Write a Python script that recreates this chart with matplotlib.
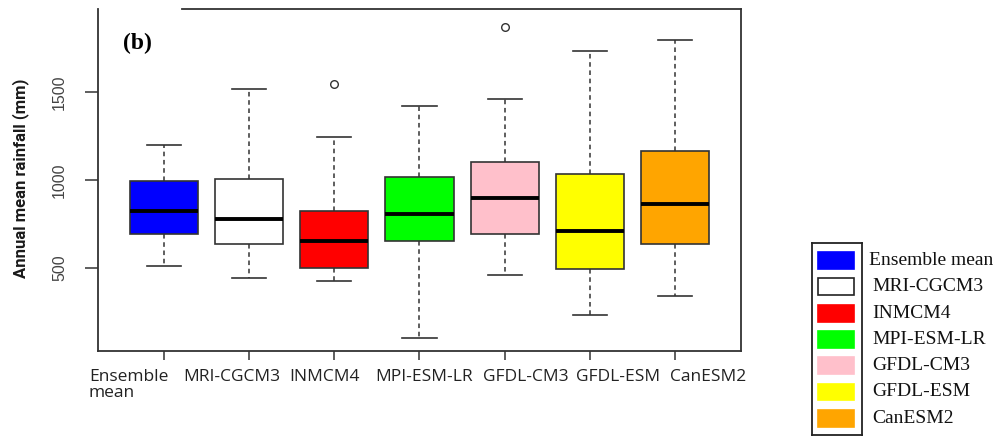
import matplotlib
matplotlib.use('Agg')
import matplotlib.pyplot as plt
from matplotlib.patches import Rectangle
import matplotlib.transforms as mtransforms

# models / colours
models = ['Ensemble mean', 'MRI-CGCM3', 'INMCM4', 'MPI-ESM-LR',
          'GFDL-CM3', 'GFDL-ESM', 'CanESM2']
tick_names = ['Ensemble\nmean', 'MRI-CGCM3', 'INMCM4', 'MPI-ESM-LR',
              'GFDL-CM3', 'GFDL-ESM', 'CanESM2']
colors = ['#0000FF', '#FFFFFF', '#FF0000', '#00FF00',
          '#FFC0CB', '#FFFF00', '#FFA500']

# box statistics (mm)
whislo = [511, 443, 422, 101, 456, 228, 336]
q1 = [694, 633, 500, 652, 690, 494, 633]
med = [821, 778, 652, 804, 897, 711, 861]
q3 = [992, 1006, 823, 1019, 1100, 1032, 1163]
whishi = [1201, 1520, 1243, 1420, 1463, 1735, 1800]
outliers = [[], [], [1545], [], [1874], [], []]

# where the x labels sit (they are not centred on the ticks in the original)
label_x = [0.58, 1.79, 2.88, 4.05, 5.25, 6.33, 7.39]


def main():
    fig = plt.figure(figsize=(9.95, 4.37), dpi=100)
    ax = fig.add_axes([0.0985, 0.1968, 0.6462, 0.7826])

    stats = []
    for i in range(len(models)):
        stats.append(dict(whislo=whislo[i], q1=q1[i], med=med[i], q3=q3[i],
                          whishi=whishi[i], fliers=outliers[i]))

    pos = list(range(1, len(models) + 1))
    bp = ax.bxp(stats, positions=pos, widths=0.8, capwidths=0.4,
                patch_artist=True, showfliers=True,
                boxprops=dict(edgecolor='#333333', linewidth=1.2),
                medianprops=dict(color='black', linewidth=2.8, solid_capstyle='butt'),
                whiskerprops=dict(color='#333333', linewidth=1.1,
                                  linestyle=(0, (3.0, 2.4))),
                capprops=dict(color='#333333', linewidth=1.2),
                flierprops=dict(marker='o', markersize=5.5, markerfacecolor='none',
                                markeredgecolor='#333333', markeredgewidth=1.0))
    for patch, c in zip(bp['boxes'], colors):
        patch.set_facecolor(c)

    ax.set_xlim(0.22, 7.78)
    ax.set_ylim(25, 1975)
    ax.set_yticks([500, 1000, 1500])
    ax.set_yticklabels(['500', '1000', '1500'], rotation=90, va='center',
                       fontsize=11.5, family='Liberation Sans')
    ax.set_xticks(pos)
    ax.set_xticklabels([''] * len(pos))
    ax.tick_params(axis='y', length=9.4, width=1.1, color='#333333', pad=13,
                   labelcolor='#444444')
    ax.tick_params(axis='x', length=6.5, width=1.1, color='#333333')

    for s in ax.spines.values():
        s.set_color('#333333')
        s.set_linewidth(1.3)
    ax.spines['top'].set_bounds(1.21, 7.78)

    trans = mtransforms.blended_transform_factory(ax.transData, ax.transAxes)
    for x, name in zip(label_x, tick_names):
        ax.text(x, -0.052, name, transform=trans, ha='center', va='top',
                multialignment='left', linespacing=1.05,
                fontsize=12.5, family='Open Sans', color='#222222')

    ax.text(0.062, 0.9, '(b)', transform=ax.transAxes, ha='center', va='center',
            fontsize=17, fontweight='bold', family='Liberation Serif')

    fig.text(0.021, (437 - 178) / 437, 'Annual mean rainfall (mm)', rotation=90,
             ha='center', va='center', fontsize=12, fontweight='bold',
             family='Roboto', color='#1a1a1a')

    # legend: frame only around the colour swatches, names outside it
    lax = fig.add_axes([812 / 995, 2 / 437, 50 / 995, 192 / 437])
    lax.set_xlim(0, 1)
    lax.set_ylim(1, 0)
    lax.set_xticks([])
    lax.set_yticks([])
    for s in lax.spines.values():
        s.set_color('#222222')
        s.set_linewidth(1.3)
    step = 0.137
    for i, (name, c) in enumerate(zip(models, colors)):
        yc = 0.091 + i * step
        ec = '#222222' if c == '#FFFFFF' else c
        lax.add_patch(Rectangle((0.12, yc - 0.044), 0.72, 0.088,
                                facecolor=c, edgecolor=ec, linewidth=1.2))
        lax.text(1.2 if i else 1.14, yc, name, ha='left', va='center', fontsize=14,
                 family='Liberation Serif', color='#111111', clip_on=False)

    fig.savefig('out.png', dpi=100)


if __name__ == '__main__':
    main()
